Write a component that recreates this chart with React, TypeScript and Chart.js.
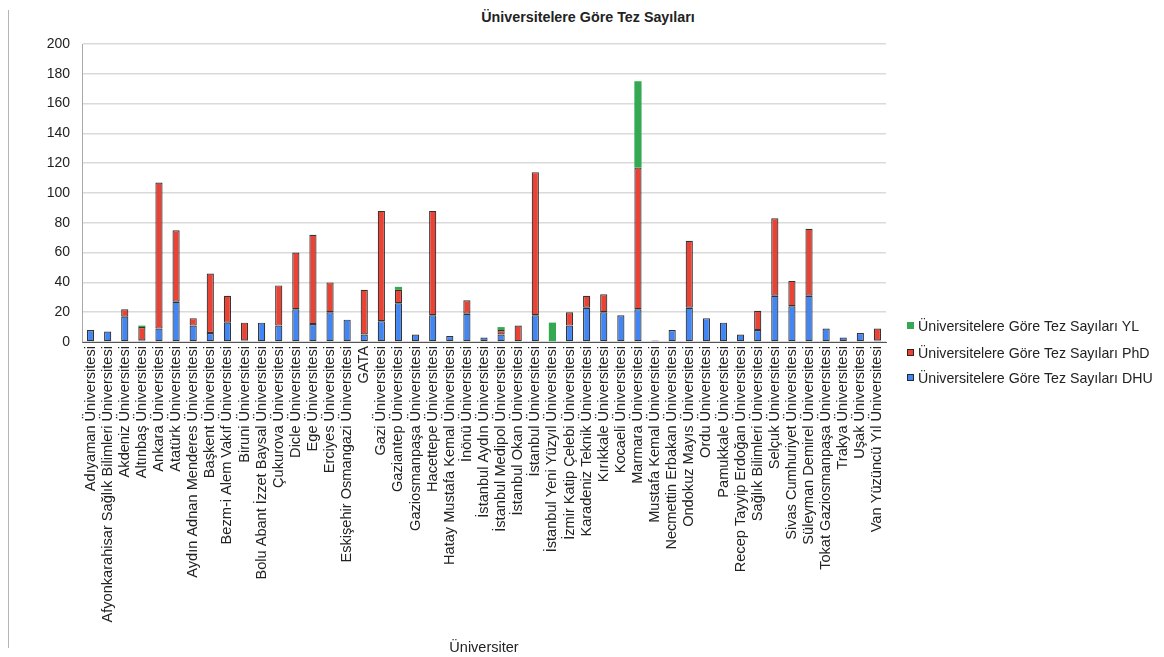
import React, { useEffect, useRef } from "react";
import { Chart, registerables } from "chart.js";

Chart.register(...registerables);

const chartTitle = "Üniversitelere Göre Tez Sayıları";
const xAxisTitle = "Üniversiter";

const categories = [
  "Adıyaman Üniversitesi",
  "Afyonkarahisar Sağlık Bilimleri Üniversitesi",
  "Akdeniz Üniversitesi",
  "Altınbaş Üniversitesi",
  "Ankara Üniversitesi",
  "Atatürk Üniversitesi",
  "Aydın Adnan Menderes Üniversitesi",
  "Başkent Üniversitesi",
  "Bezm-i Alem Vakıf Üniversitesi",
  "Biruni Üniversitesi",
  "Bolu Abant İzzet Baysal Üniversitesi",
  "Çukurova Üniversitesi",
  "Dicle Üniversitesi",
  "Ege Üniversitesi",
  "Erciyes Üniversitesi",
  "Eskişehir Osmangazi Üniversitesi",
  "GATA",
  "Gazi Üniversitesi",
  "Gaziantep Üniversitesi",
  "Gaziosmanpaşa Üniversitesi",
  "Hacettepe Üniversitesi",
  "Hatay Mustafa Kemal Üniversitesi",
  "İnönü Üniversitesi",
  "İstanbul Aydın Üniversitesi",
  "İstanbul Medipol Üniversitesi",
  "İstanbul Okan Üniversitesi",
  "İstanbul Üniversitesi",
  "İstanbul Yeni Yüzyıl Üniversitesi",
  "İzmir Katip Çelebi Üniversitesi",
  "Karadeniz Teknik Üniversitesi",
  "Kırıkkale Üniversitesi",
  "Kocaeli Üniversitesi",
  "Marmara Üniversitesi",
  "Mustafa Kemal Üniversitesi",
  "Necmettin Erbakan Üniversitesi",
  "Ondokuz Mayıs Üniversitesi",
  "Ordu Üniversitesi",
  "Pamukkale Üniversitesi",
  "Recep Tayyip Erdoğan Üniversitesi",
  "Sağlık Bilimleri Üniversitesi",
  "Selçuk Üniversitesi",
  "Sivas Cumhuriyet Üniversitesi",
  "Süleyman Demirel Üniversitesi",
  "Tokat Gaziosmanpaşa Üniversitesi",
  "Trakya Üniversitesi",
  "Uşak Üniversitesi",
  "Van Yüzüncü Yıl Üniversitesi",
];

const dhuValues = [
  8, 7, 17, 1, 9, 27, 11, 6, 13, 1, 13, 11, 22, 12, 20, 15, 5, 14, 26, 5, 18, 4,
  19, 3, 5, 0, 18, 0, 11, 23, 20, 18, 22, 1, 8, 23, 16, 13, 5, 8, 31, 24, 31, 9,
  3, 6, 1,
];

const phdValues = [
  0, 0, 5, 9, 98, 48, 5, 40, 18, 12, 0, 27, 38, 60, 20, 0, 30, 74, 9, 0, 70, 0,
  9, 0, 3, 11, 96, 0, 9, 8, 12, 0, 95, 0, 0, 45, 0, 0, 0, 13, 52, 17, 45, 0, 0,
  0, 8,
];

const ylValues = [
  0, 0, 0, 1, 0, 0, 0, 0, 0, 0, 0, 0, 0, 0, 0, 0, 0, 0, 2, 0, 0, 0, 0, 0, 2, 0,
  0, 13, 0, 0, 0, 0, 58, 0, 0, 0, 0, 0, 0, 0, 0, 0, 0, 0, 0, 0, 0,
];

const seriesNames = [
  "Üniversitelere Göre Tez Sayıları DHU",
  "Üniversitelere Göre Tez Sayıları PhD",
  "Üniversitelere Göre Tez Sayıları YL",
];

const yTicks = [0, 20, 40, 60, 80, 100, 120, 140, 160, 180, 200];

const BLUE = "#4285F4";
const RED = "#EA4335";
const GREEN = "#34A853";
const OUTLINE = "rgba(30,30,30,0.9)";
const FONT = "'Liberation Sans', Arial, sans-serif";

export default function App() {
  const canvasRef = useRef<HTMLCanvasElement | null>(null);

  useEffect(() => {
    const canvas = canvasRef.current;
    if (!canvas) return;
    const bw = (c: any) => (c.raw ? 1.2 : 0);
    const chart = new Chart(canvas, {
      type: "bar",
      data: {
        labels: categories,
        datasets: [
          {
            label: seriesNames[0],
            data: dhuValues,
            backgroundColor: BLUE,
            borderColor: OUTLINE,
            borderWidth: bw,
            borderSkipped: false,
          },
          {
            label: seriesNames[1],
            data: phdValues,
            backgroundColor: RED,
            borderColor: OUTLINE,
            borderWidth: bw,
            borderSkipped: false,
          },
          {
            label: seriesNames[2],
            data: ylValues,
            backgroundColor: GREEN,
            borderWidth: 0,
          },
        ],
      },
      options: {
        animation: false,
        responsive: true,
        maintainAspectRatio: false,
        layout: { padding: { left: 0, right: 278, top: 44, bottom: 0 } },
        datasets: {
          bar: { categoryPercentage: 1, barPercentage: 0.42 },
        },
        plugins: {
          legend: { display: false },
          title: { display: false },
          tooltip: { enabled: false },
        },
        scales: {
          x: {
            stacked: true,
            grid: { display: false, drawTicks: false },
            border: { display: true, color: "#555", width: 1 },
            ticks: {
              autoSkip: false,
              minRotation: 90,
              maxRotation: 90,
              padding: 4,
              color: "#222",
              font: { family: FONT, size: 14.6 },
            },
            title: {
              display: true,
              text: xAxisTitle,
              color: "#222",
              font: { family: FONT, size: 14.5 },
              padding: { top: 0, bottom: 0 },
            },
            afterFit: (scale: any) => {
              scale.height = 315;
            },
          },
          y: {
            stacked: true,
            min: 0,
            max: 200,
            afterBuildTicks: (scale: any) => {
              scale.ticks = yTicks.map((v) => ({ value: v }));
            },
            grid: { color: "#dadada", lineWidth: 1.5, drawTicks: false },
            border: { display: true, color: "#a8a8a8", width: 1 },
            ticks: {
              padding: 12,
              color: "#222",
              font: { family: FONT, size: 14 },
            },
            afterFit: (scale: any) => {
              scale.width = 82;
            },
          },
        },
      },
    });
    return () => chart.destroy();
  }, []);

  const legendRows = [
    { name: seriesNames[2], color: GREEN, outline: false, top: 317 },
    { name: seriesNames[1], color: RED, outline: true, top: 344 },
    { name: seriesNames[0], color: BLUE, outline: true, top: 369 },
  ];

  return (
    <div
      style={{
        position: "fixed",
        left: 0,
        top: 0,
        width: 1164,
        height: 657,
        background: "#fff",
        fontFamily: FONT,
      }}
    >
      <div
        style={{
          position: "absolute",
          left: 8,
          top: 10,
          width: 1,
          height: 638,
          background: "#b5b5b5",
        }}
      />
      <div
        style={{
          position: "absolute",
          left: 588,
          top: 9,
          transform: "translateX(-50%)",
          fontWeight: "bold",
          fontSize: 14.3,
          color: "#222",
          whiteSpace: "nowrap",
        }}
      >
        {chartTitle}
      </div>
      <canvas
        ref={canvasRef}
        style={{ position: "absolute", left: 0, top: 0, width: 1164, height: 657 }}
      />
      {legendRows.map((r) => (
        <div
          key={r.name}
          style={{
            position: "absolute",
            left: 907,
            top: r.top,
            height: 17,
            display: "flex",
            alignItems: "center",
            fontSize: 14.2,
            color: "#222",
            whiteSpace: "nowrap",
          }}
        >
          <span
            style={{
              display: "inline-block",
              width: 7,
              height: 7,
              background: r.color,
              boxSizing: "border-box",
              border: r.outline ? `1px solid ${OUTLINE}` : "none",
              marginRight: 4,
            }}
          />
          {r.name}
        </div>
      ))}
    </div>
  );
}
